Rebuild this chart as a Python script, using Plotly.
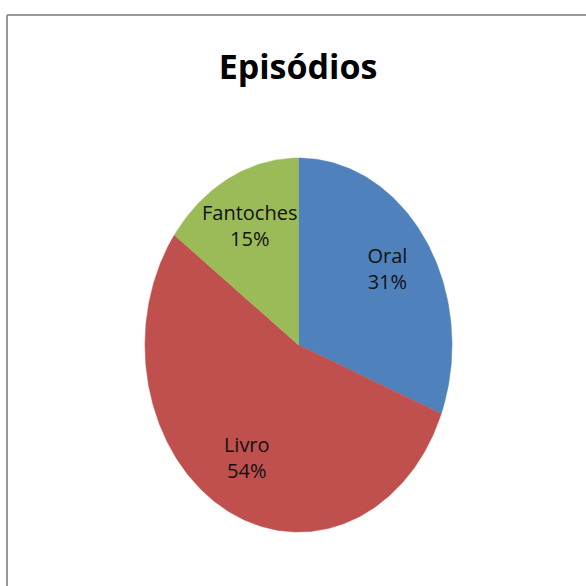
import numpy as np
import plotly.graph_objects as go

# ---- data ----
categories = ["Oral", "Livro", "Fantoches"]
values = [31, 54, 15]
colors = ["#4F81BD", "#C0504D", "#9BBB59"]
title_text = "Episódios"

W = H = 586
# pie geometry in pixels (Excel stretched the circle into an ellipse)
cx, cy, rx, ry = 298.5, 345.0, 153.5, 187.0

fig = go.Figure()

total = float(sum(values))
start = 0.0
label_r = 0.70
for cat, val, col in zip(categories, values, colors):
    frac = val / total
    a0, a1 = start * 2 * np.pi, (start + frac) * 2 * np.pi
    t = np.linspace(a0, a1, max(int(frac * 400), 8))
    xs = np.concatenate([[0.0], np.sin(t), [0.0]])
    ys = np.concatenate([[0.0], np.cos(t), [0.0]])
    fig.add_trace(go.Scatter(
        x=xs, y=ys, mode="lines", fill="toself", fillcolor=col,
        line=dict(color=col, width=0.5), hoverinfo="skip", showlegend=False,
    ))
    am = (start + frac / 2) * 2 * np.pi
    pct = round(frac * 100)
    fig.add_trace(go.Scatter(
        x=[label_r * np.sin(am)], y=[label_r * np.cos(am)], mode="text",
        text=[f"{cat}<br>{pct}%"],
        textfont=dict(family="Open Sans, sans-serif", size=20, color="#111111"),
        textposition="middle center", hoverinfo="skip", showlegend=False,
    ))
    start += frac

# axis ranges so unit circle maps to the ellipse in pixel space
x0 = -cx / rx
x1 = (W - cx) / rx
ytop = cy / ry
ybot = -(H - cy) / ry

fig.update_layout(
    width=W, height=H,
    margin=dict(l=0, r=0, t=0, b=0),
    paper_bgcolor="white", plot_bgcolor="white",
    xaxis=dict(range=[x0, x1], visible=False, fixedrange=True),
    yaxis=dict(range=[ybot, ytop], visible=False, fixedrange=True),
    title=dict(text=f"<b>{title_text}</b>", x=298 / W, xanchor="center",
               y=1 - 67 / H, yanchor="middle",
               font=dict(family="Open Sans, sans-serif", size=34, color="#000000")),
    shapes=[
        dict(type="line", xref="paper", yref="paper", x0=7 / W, x1=1.0,
             y0=1 - 15 / H, y1=1 - 15 / H, line=dict(color="#999999", width=2)),
        dict(type="line", xref="paper", yref="paper", x0=7 / W, x1=7 / W,
             y0=0.0, y1=1 - 15 / H, line=dict(color="#999999", width=2)),
    ],
)

fig.write_html("out.html", config={"displayModeBar": False},
               post_script="document.body.style.margin='0';")
